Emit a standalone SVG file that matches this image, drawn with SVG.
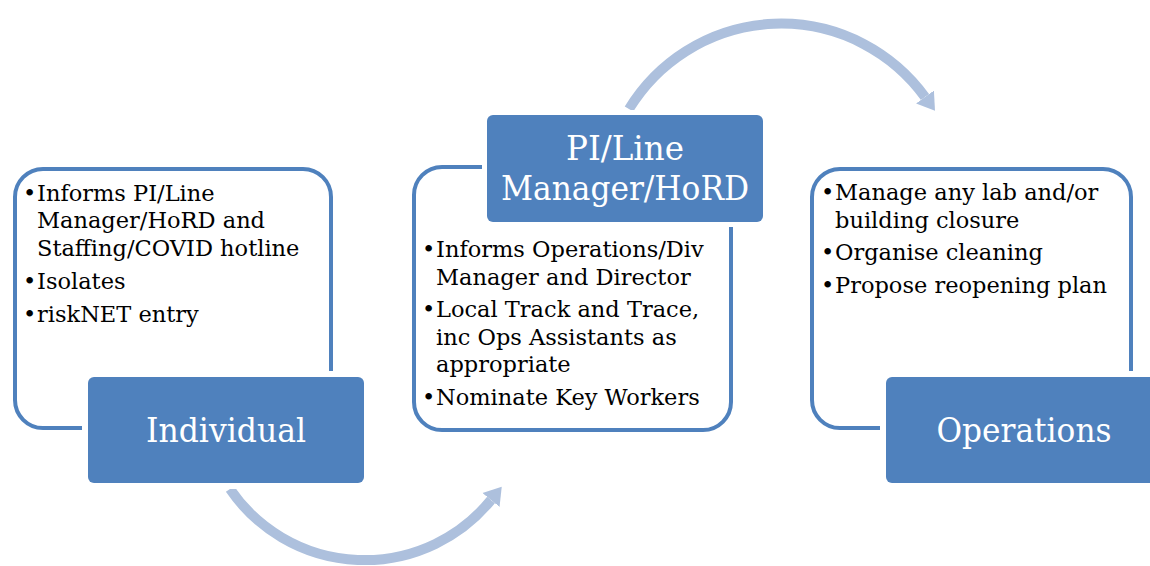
<svg xmlns="http://www.w3.org/2000/svg" width="1150" height="566" viewBox="0 0 1150 566">
<defs>
<style>
.panel{fill:#ffffff;stroke:#4f81bd;stroke-width:4}
.gap{fill:#ffffff}
.box{fill:#4f81bd}
.title{font-family:"DejaVu Serif","Liberation Serif",serif;font-size:33px;fill:#ffffff;text-anchor:middle}
.body{font-family:"DejaVu Serif","Liberation Serif",serif;font-size:22.5px;fill:#000000}
.arc{fill:none;stroke:#adc0dd;stroke-width:10}
</style>
<marker id="head" markerUnits="userSpaceOnUse" markerWidth="20" markerHeight="26" refX="0" refY="12" orient="auto" viewBox="0 0 20 24">
<path d="M0,1 L17,12 L0,23 z" fill="#adc0dd"/>
</marker>
</defs>
<g id="connectors">
<path class="arc" d="M 230 489 A 163 163 0 0 0 491 500" marker-end="url(#head)"/>
<path class="arc" d="M 629 109 A 178 178 0 0 1 925 97" marker-end="url(#head)"/>
</g>
<g id="individual">
<rect class="panel" x="15" y="169" width="316" height="259" rx="28"/>
<rect class="gap" x="82" y="371" width="288" height="118" rx="10"/>
<rect class="box" x="88" y="377" width="276" height="106" rx="6"/>
<text class="title" x="226" y="442" textLength="160" lengthAdjust="spacingAndGlyphs">Individual</text>
<text class="body"><tspan x="23" y="201">•</tspan><tspan x="37" y="201">Informs PI/Line</tspan><tspan x="37" y="228">Manager/HoRD and</tspan><tspan x="37" y="256">Staffing/COVID hotline</tspan><tspan x="23" y="289">•</tspan><tspan x="37" y="289">Isolates</tspan><tspan x="23" y="322">•</tspan><tspan x="37" y="322">riskNET entry</tspan></text>
</g>
<g id="manager">
<rect class="panel" x="414" y="167" width="317" height="263" rx="28"/>
<rect class="gap" x="482" y="110" width="286" height="117" rx="10"/>
<rect class="box" x="487" y="115" width="276" height="107" rx="6"/>
<text class="title" x="625" y="160" textLength="118" lengthAdjust="spacingAndGlyphs">PI/Line</text>
<text class="title" x="625" y="200" textLength="248" lengthAdjust="spacingAndGlyphs">Manager/HoRD</text>
<text class="body"><tspan x="422" y="257">•</tspan><tspan x="436" y="257">Informs Operations/Div</tspan><tspan x="436" y="285">Manager and Director</tspan><tspan x="422" y="317">•</tspan><tspan x="436" y="317">Local Track and Trace,</tspan><tspan x="436" y="345">inc Ops Assistants as</tspan><tspan x="436" y="372">appropriate</tspan><tspan x="422" y="405">•</tspan><tspan x="436" y="405">Nominate Key Workers</tspan></text>
</g>
<g id="operations">
<rect class="panel" x="812" y="169" width="319" height="259" rx="28"/>
<rect class="gap" x="880" y="371" width="288" height="118" rx="10"/>
<rect class="box" x="886" y="377" width="276" height="106" rx="6"/>
<text class="title" x="1024" y="442" textLength="175" lengthAdjust="spacingAndGlyphs">Operations</text>
<text class="body"><tspan x="821" y="200">•</tspan><tspan x="835" y="200">Manage any lab and/or</tspan><tspan x="835" y="228">building closure</tspan><tspan x="821" y="260">•</tspan><tspan x="835" y="260">Organise cleaning</tspan><tspan x="821" y="293">•</tspan><tspan x="835" y="293">Propose reopening plan</tspan></text>
</g>
</svg>
